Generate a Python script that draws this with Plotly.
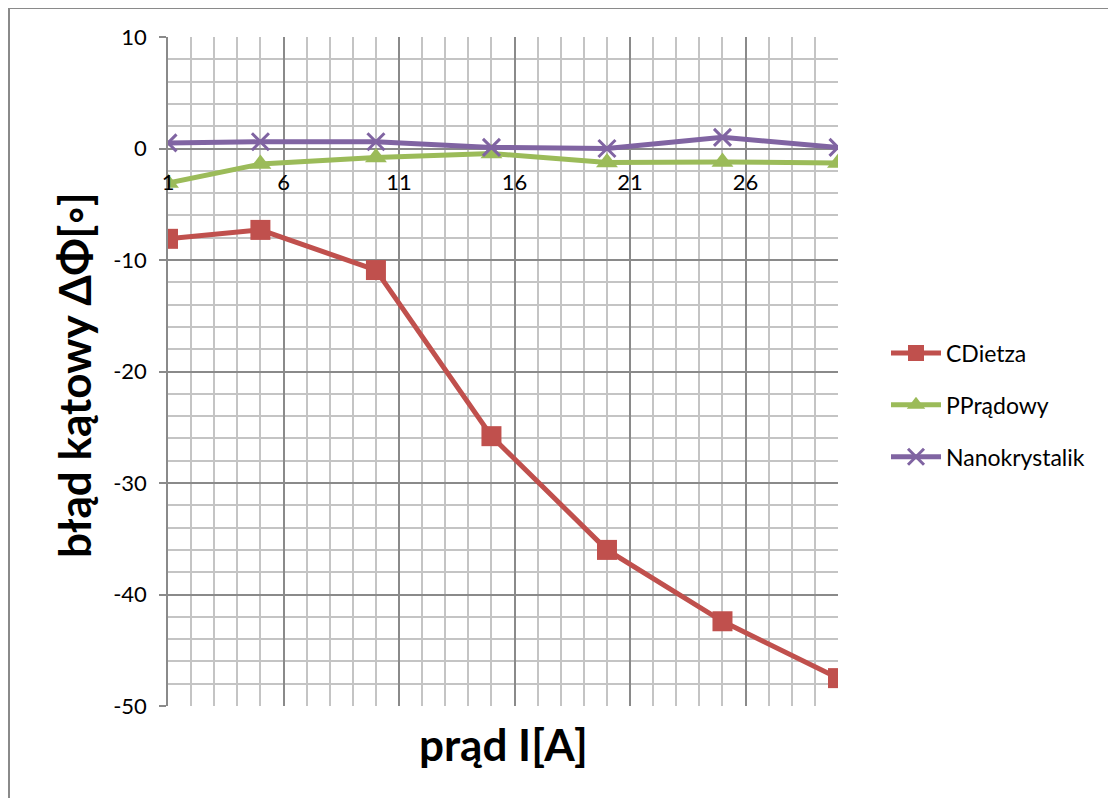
import plotly.graph_objects as go

current = [1, 5, 10, 15, 20, 25, 30]
cdietza = [-8.1, -7.3, -10.9, -25.8, -36.0, -42.4, -47.5]
pradowy = [-3.1, -1.4, -0.8, -0.45, -1.25, -1.2, -1.3]
nanokrystalik = [0.5, 0.6, 0.6, 0.1, 0.0, 1.0, 0.1]

series_names = ["CDietza", "PPrądowy", "Nanokrystalik"]
x_title = "prąd I[A]"
y_title = "błąd kątowy ΔΦ[◦]"
y_tickvals = [-50, -40, -30, -20, -10, 0, 10]
y_ticktext = ["-50", "-40", "-30", "-20", "-10", "0", "10"]

FONT = "Lato, Open Sans, sans-serif"

fig = go.Figure()
fig.add_trace(go.Scatter(x=current, y=cdietza, name=series_names[0], mode="lines+markers",
                         legendgroup="g1",
                         line=dict(color="#C0504D", width=5),
                         marker=dict(symbol="square", size=20, color="#C0504D")))
fig.add_trace(go.Scatter(x=current, y=pradowy, name=series_names[1], mode="lines+markers",
                         legendgroup="g2",
                         line=dict(color="#9BBB59", width=5),
                         marker=dict(symbol="triangle-up", size=19, color="#9BBB59")))
fig.add_trace(go.Scatter(x=current, y=nanokrystalik, name=series_names[2], mode="lines+markers",
                         legendgroup="g3",
                         line=dict(color="#8064A2", width=5),
                         marker=dict(symbol="x-thin", size=17, color="#8064A2",
                                     line=dict(width=3, color="#8064A2"))))

# page has an 8px body margin; figure coordinates = screen - 8
OFF = 8
W, H = 1116 - OFF, 798 - OFF
L, R, T, B = 168 - OFF, 838 - OFF, 37 - OFF, 706 - OFF


def px(xs):
    return (xs - OFF - L) / (R - L)


def py(ys):
    return (B - (ys - OFF)) / (B - T)


fig.update_layout(
    width=W, height=H,
    margin=dict(l=L, r=W - R, t=T, b=H - B, autoexpand=False),
    paper_bgcolor="white", plot_bgcolor="white",
    font=dict(family=FONT, size=22, color="#000000"),
    showlegend=True,
    legend=dict(x=px(886), y=py(405), xanchor="left", yanchor="middle",
                font=dict(size=23), tracegroupgap=19, itemwidth=50,
                bgcolor="rgba(0,0,0,0)"),
    xaxis=dict(range=[1, 30], tick0=1, dtick=5, showgrid=True, gridcolor="#8A8A8A", gridwidth=1.5,
               minor=dict(dtick=1, tick0=1, showgrid=True, gridcolor="#C4C4C4", gridwidth=1.5),
               zeroline=False, showline=False, anchor="free", position=50 / 60,
               ticks="outside", ticklen=14, tickcolor="rgba(0,0,0,0)",
               tickfont=dict(size=22, family=FONT)),
    yaxis=dict(range=[-50, 10], tickmode="array", tickvals=y_tickvals, ticktext=y_ticktext,
               showgrid=True, gridcolor="#8A8A8A", gridwidth=1.5,
               minor=dict(dtick=2, showgrid=True, gridcolor="#C4C4C4", gridwidth=1.5),
               zeroline=True, zerolinecolor="#8A8A8A", zerolinewidth=1.5,
               showline=True, linecolor="#8A8A8A", linewidth=1.5,
               ticks="outside", ticklen=7, tickcolor="#8A8A8A", tickwidth=1.5,
               ticklabelstandoff=8,
               tickfont=dict(size=22, family=FONT)),
    annotations=[
        dict(text=x_title, xref="paper", yref="paper", x=px(503), y=py(744),
             showarrow=False, font=dict(size=44, family=FONT, color="#000000", weight="bold"),
             xanchor="center", yanchor="middle"),
        dict(text=y_title, xref="paper", yref="paper", x=px(74), y=py(375),
             showarrow=False, textangle=-90,
             font=dict(size=44, family=FONT, color="#000000", weight="bold"),
             xanchor="center", yanchor="middle"),
    ],
    shapes=[
        dict(type="rect", xref="paper", yref="paper",
             x0=px(9), x1=px(1130),
             y0=py(812), y1=py(8),
             line=dict(color="#8A8A8A", width=2), fillcolor="rgba(0,0,0,0)", layer="below"),
    ],
)

fig.write_html("out.html")
